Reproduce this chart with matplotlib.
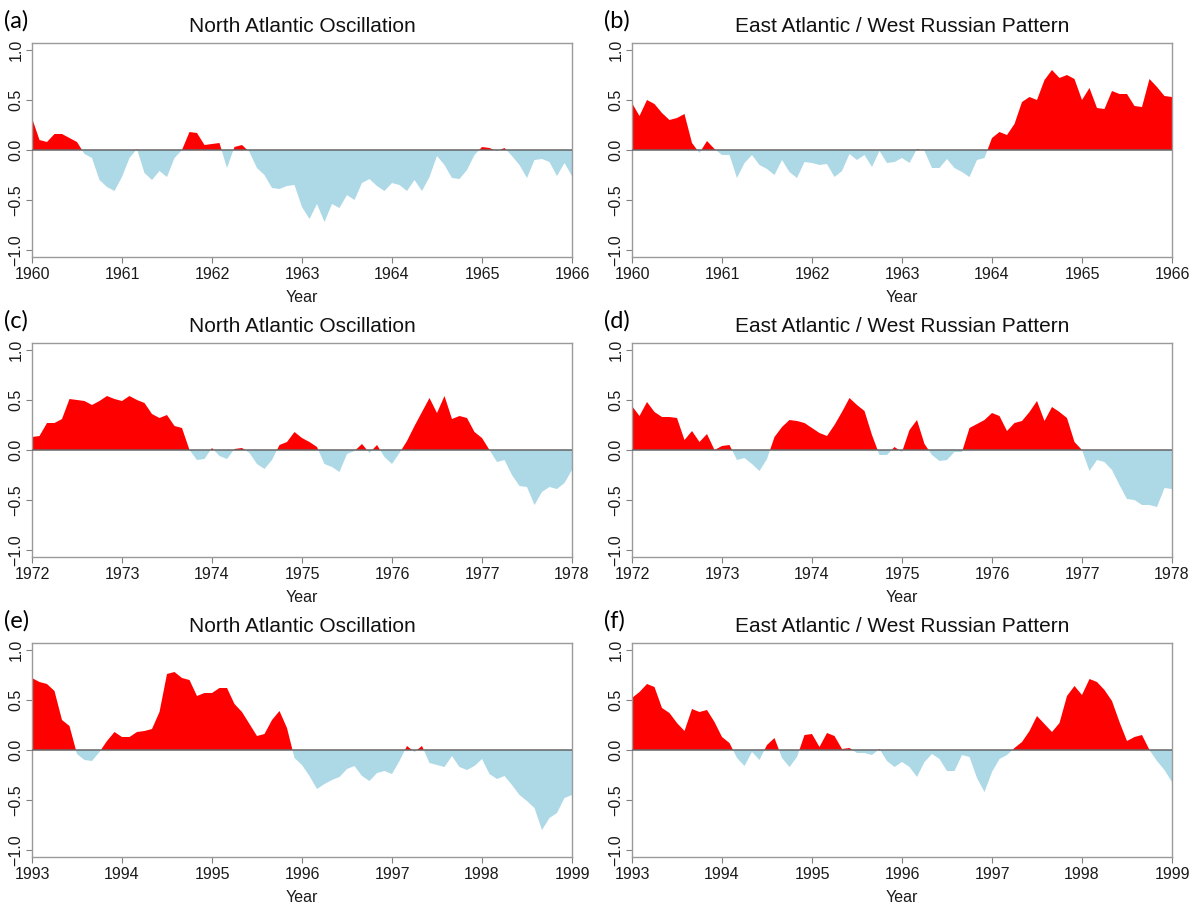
# teleconnection index panels: NAO and EA/WR for three 6-year windows
import numpy as np
import matplotlib
matplotlib.use("Agg")
import matplotlib.pyplot as plt

plt.rcParams['font.family'] = ['Liberation Sans', 'DejaVu Sans']

###############################################################################
# data (monthly values)
nao_1960 = [0.32, 0.10, 0.08, 0.16, 0.16, 0.12, 0.08, -0.04, -0.08, -0.30, -0.37, -0.41,
            -0.27, -0.08, 0.01, -0.23, -0.30, -0.21, -0.27, -0.08, 0.00, 0.18, 0.17, 0.05,
            0.06, 0.07, -0.18, 0.03, 0.05, -0.02, -0.18, -0.25, -0.38, -0.39, -0.36, -0.35,
            -0.57, -0.69, -0.54, -0.72, -0.54, -0.58, -0.45, -0.50, -0.33, -0.29, -0.36, -0.41,
            -0.33, -0.35, -0.41, -0.30, -0.41, -0.27, -0.06, -0.15, -0.28, -0.29, -0.20, -0.05,
            0.03, 0.02, -0.01, 0.02, -0.06, -0.15, -0.28, -0.10, -0.09, -0.12, -0.26, -0.13,
            -0.26]
eawr_1960 = [0.47, 0.34, 0.50, 0.46, 0.37, 0.30, 0.32, 0.36, 0.07, -0.03, 0.09, 0.01,
             -0.05, -0.05, -0.28, -0.13, -0.05, -0.15, -0.19, -0.25, -0.10, -0.22, -0.28, -0.12,
             -0.13, -0.15, -0.14, -0.27, -0.21, -0.04, -0.10, -0.05, -0.17, -0.01, -0.13, -0.12,
             -0.08, -0.13, 0.01, -0.01, -0.18, -0.18, -0.09, -0.18, -0.22, -0.27, -0.10, -0.08,
             0.12, 0.18, 0.15, 0.26, 0.48, 0.53, 0.50, 0.70, 0.80, 0.72, 0.75, 0.71,
             0.50, 0.62, 0.42, 0.41, 0.59, 0.56, 0.56, 0.44, 0.43, 0.71, 0.63, 0.54,
             0.53]
nao_1972 = [0.13, 0.14, 0.27, 0.27, 0.31, 0.51, 0.50, 0.49, 0.45, 0.49, 0.54, 0.51,
            0.49, 0.54, 0.50, 0.47, 0.36, 0.32, 0.35, 0.24, 0.22, 0.00, -0.10, -0.09,
            0.02, -0.06, -0.09, 0.01, 0.02, -0.03, -0.14, -0.19, -0.10, 0.05, 0.08, 0.18,
            0.12, 0.08, 0.03, -0.14, -0.17, -0.22, -0.04, -0.01, 0.06, -0.03, 0.05, -0.07,
            -0.14, -0.03, 0.09, 0.24, 0.38, 0.52, 0.37, 0.54, 0.31, 0.34, 0.32, 0.18,
            0.12, 0.00, -0.12, -0.10, -0.25, -0.36, -0.37, -0.55, -0.42, -0.37, -0.39, -0.33,
            -0.20]
eawr_1972 = [0.44, 0.34, 0.48, 0.38, 0.33, 0.33, 0.32, 0.10, 0.19, 0.08, 0.16, 0.00,
             0.04, 0.05, -0.10, -0.08, -0.14, -0.21, -0.09, 0.13, 0.23, 0.30, 0.29, 0.27,
             0.22, 0.17, 0.14, 0.25, 0.38, 0.52, 0.45, 0.39, 0.15, -0.05, -0.05, 0.03,
             -0.02, 0.20, 0.30, 0.06, -0.05, -0.11, -0.10, -0.02, -0.02, 0.22, 0.26, 0.30,
             0.37, 0.34, 0.19, 0.27, 0.29, 0.38, 0.49, 0.29, 0.43, 0.38, 0.32, 0.08,
             0.00, -0.21, -0.10, -0.12, -0.20, -0.35, -0.49, -0.50, -0.55, -0.55, -0.57, -0.38,
             -0.39]
nao_1993 = [0.72, 0.68, 0.66, 0.59, 0.30, 0.24, -0.04, -0.10, -0.11, -0.02, 0.09, 0.18,
            0.13, 0.13, 0.18, 0.19, 0.21, 0.38, 0.76, 0.78, 0.72, 0.70, 0.54, 0.57,
            0.57, 0.62, 0.62, 0.46, 0.38, 0.26, 0.14, 0.16, 0.30, 0.39, 0.22, -0.08,
            -0.15, -0.26, -0.39, -0.34, -0.30, -0.27, -0.19, -0.16, -0.26, -0.31, -0.23, -0.21,
            -0.24, -0.11, 0.04, -0.02, 0.04, -0.13, -0.15, -0.17, -0.06, -0.17, -0.20, -0.16,
            -0.09, -0.24, -0.29, -0.26, -0.35, -0.45, -0.51, -0.58, -0.80, -0.68, -0.63, -0.48,
            -0.45]
eawr_1993 = [0.52, 0.58, 0.66, 0.63, 0.42, 0.37, 0.27, 0.19, 0.41, 0.38, 0.40, 0.28,
             0.13, 0.07, -0.08, -0.16, -0.02, -0.10, 0.05, 0.12, -0.08, -0.17, -0.07, 0.15,
             0.16, 0.03, 0.17, 0.14, 0.01, 0.02, -0.03, -0.03, -0.05, 0.01, -0.11, -0.17,
             -0.12, -0.17, -0.27, -0.12, -0.04, -0.09, -0.21, -0.21, -0.05, -0.07, -0.28, -0.42,
             -0.22, -0.09, -0.05, 0.02, 0.08, 0.19, 0.34, 0.26, 0.18, 0.27, 0.54, 0.64,
             0.55, 0.71, 0.68, 0.60, 0.49, 0.28, 0.09, 0.13, 0.15, 0.00, -0.11, -0.20,
             -0.32]

start_years = [1960, 1960, 1972, 1972, 1993, 1993]
panel_letters = ['(a)', '(b)', '(c)', '(d)', '(e)', '(f)']
titles = ['North Atlantic Oscillation', 'East Atlantic / West Russian Pattern'] * 3
series = [nao_1960, eawr_1960, nao_1972, eawr_1972, nao_1993, eawr_1993]
y_ticks = [-1.0, -0.5, 0.0, 0.5, 1.0]
###############################################################################

W, H = 1197, 908
fig = plt.figure(figsize=(W / 100, H / 100), dpi=100)

col_left = [32, 632]
row_top = [43, 343, 643]
ax_w, ax_h = 540, 214

for k, vals in enumerate(series):
    r, c = divmod(k, 2)
    x0 = col_left[c]
    y0 = row_top[r]
    ax = fig.add_axes([x0 / W, (H - y0 - ax_h) / H, ax_w / W, ax_h / H])

    v = np.asarray(vals)
    t = start_years[k] + np.arange(len(v)) / 12.0

    ax.fill_between(t, 0, v, where=v >= 0, interpolate=True,
                    color='#ff0000', lw=0)
    ax.fill_between(t, 0, v, where=v <= 0, interpolate=True,
                    color='#add8e6', lw=0)
    ax.axhline(0, color='#666666', lw=1.1, zorder=3)

    ax.set_xlim(start_years[k], start_years[k] + 6)
    ax.set_ylim(-1.07, 1.07)
    ax.set_xticks(np.arange(start_years[k], start_years[k] + 7))
    ax.set_yticks(y_ticks)
    ax.set_yticklabels([f"{y:.1f}".replace('-', '\u2212') for y in y_ticks],
                       rotation=90, va='center')
    ax.tick_params(axis='both', direction='out', length=4, width=0.8,
                   color='#808080', labelsize=11.5, labelcolor='#1a1a1a')
    ax.tick_params(axis='x', pad=3)
    ax.tick_params(axis='y', pad=2)
    for sp in ax.spines.values():
        sp.set_color('#9a9a9a')
        sp.set_linewidth(1.0)

    ax.set_xlabel('Year', fontsize=11.5, labelpad=6, color='#1a1a1a')
    ax.set_title(titles[k], fontsize=15, pad=8, color='#111111')

    # panel letter, top-left of each panel
    fig.text((x0 - 28) / W, 1 - (y0 - 22) / H, panel_letters[k],
             fontsize=17, family=['Lato', 'DejaVu Sans'], va='center', ha='left')

fig.savefig('out.png', dpi=100)
